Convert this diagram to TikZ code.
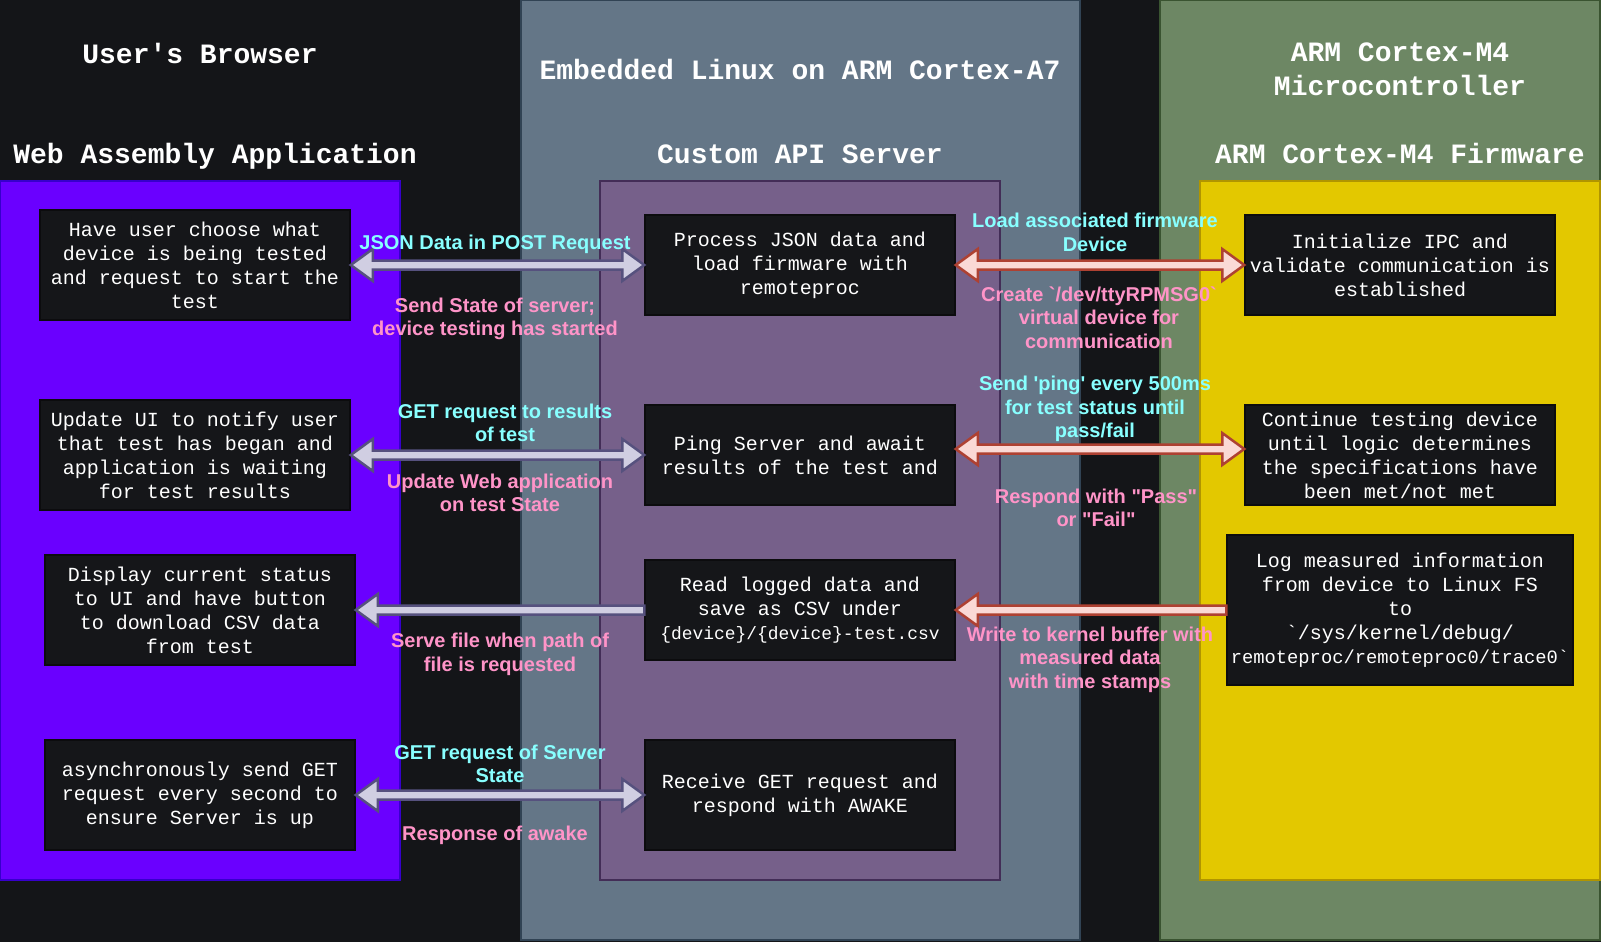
\documentclass[tikz,border=0pt]{standalone}
\usepackage{fontspec}
\setsansfont{Liberation Sans}
\setmonofont{Liberation Mono}
\usetikzlibrary{calc}

\definecolor{bgcol}{HTML}{141518}
\definecolor{linuxfill}{HTML}{647687}
\definecolor{linuxline}{HTML}{314354}
\definecolor{mcufill}{HTML}{6D8764}
\definecolor{mculine}{HTML}{3A5431}
\definecolor{wasmfill}{HTML}{6A00FF}
\definecolor{wasmline}{HTML}{3700CC}
\definecolor{apifill}{HTML}{76608A}
\definecolor{apiline}{HTML}{432D57}
\definecolor{fwfill}{HTML}{E3C800}
\definecolor{fwline}{HTML}{B09500}
\definecolor{boxfill}{HTML}{151619}
\definecolor{boxline}{HTML}{0C0C0E}
\definecolor{lavfill}{HTML}{D0CEE2}
\definecolor{lavline}{HTML}{56517E}
\definecolor{pinkfill}{HTML}{FAD9D5}
\definecolor{pinkline}{HTML}{AE4132}
\definecolor{cyantext}{HTML}{88FFFF}
\definecolor{pinktext}{HTML}{FF94C8}

\begin{document}
\begin{tikzpicture}[x=1pt, y=-1pt,
  stepbox/.style={draw=boxline, fill=boxfill, line width=1.5pt, text=white,
    minimum width=310pt, minimum height=100pt, inner sep=0pt, align=center,
    font=\ttfamily\fontsize{20}{24}\selectfont},
  title/.style={text=white, align=center, font=\ttfamily\bfseries\fontsize{28}{34}\selectfont},
  req/.style={text=cyantext, align=center, inner sep=0pt,
    font=\sffamily\bfseries\fontsize{20}{23.5}\selectfont},
  resp/.style={req, text=pinktext},
  lav/.style={fill=lavfill, draw=lavline, line width=2.5pt},
  rose/.style={fill=pinkfill, draw=pinkline, line width=2.5pt},
  twoway/.style={to path={let \p1=(\tikztostart), \p2=(\tikztotarget),
      \p3=($(\tikztostart)!22pt!(\tikztotarget)$), \p4=($(\tikztotarget)!22pt!(\tikztostart)$) in
      -- (\x3,\y1+16pt) -- (\x3,\y1+4.5pt) -- (\x4,\y1+4.5pt) -- (\x4,\y1+16pt) -- (\x2,\y1)
      -- (\x4,\y1-16pt) -- (\x4,\y1-4.5pt) -- (\x3,\y1-4.5pt) -- (\x3,\y1-16pt) -- cycle}},
  oneway/.style={to path={let \p1=(\tikztostart), \p2=(\tikztotarget),
      \p4=($(\tikztotarget)!22pt!(\tikztostart)$) in
      (\x1,\y1+4.5pt) -- (\x4,\y1+4.5pt) -- (\x4,\y1+16pt) -- (\x2,\y1)
      -- (\x4,\y1-16pt) -- (\x4,\y1-4.5pt) -- (\x1,\y1-4.5pt) -- cycle}}]

  \useasboundingbox (0,0) rectangle (1601,942);
  \fill[bgcol] (0,0) rectangle (1601,942);

  % the three systems
  \draw[fill=linuxfill, draw=linuxline, line width=1.5pt] (521,0) rectangle (1080,940);
  \draw[fill=mcufill, draw=mculine, line width=1.5pt] (1160,0) rectangle (1600,940);
  \draw[fill=wasmfill, draw=wasmline, line width=1.5pt] (0,181) rectangle (400,880);
  \draw[fill=apifill, draw=apiline, line width=1.5pt] (600,181) rectangle (1000,880);
  \draw[fill=fwfill, draw=fwline, line width=1.5pt] (1200,181) rectangle (1600,880);

  \node[title] (browser) at (200,53) {User\textquotesingle s Browser};
  \node[title] (linux) at (800,69) {Embedded Linux on ARM Cortex-A7};
  \node[title] (mcu) at (1400,69.5) {ARM Cortex-M4\\Microcontroller};
  \node[title] (wasm) at (215,156) {Web Assembly Application};
  \node[title] (api) at (800,154) {Custom API Server};
  \node[title] (fw) at (1400,153) {ARM Cortex-M4 Firmware};

  % browser side
  \node[stepbox, minimum height=110pt] (l1) at (195,265) {Have user choose what\\device is being tested\\and request to start the\\test};
  \node[stepbox, minimum height=110pt] (l2) at (195,455) {Update UI to notify user\\that test has began and\\application is waiting\\for test results};
  \node[stepbox, minimum height=110pt] (l3) at (200,610) {Display current status\\to UI and have button\\to download CSV data\\from test};
  \node[stepbox, minimum height=110pt] (l4) at (200,795) {asynchronously send GET\\request every second to\\ensure Server is up};

  % server
  \node[stepbox] (c1) at (800,265) {Process JSON data and\\load firmware with\\remoteproc};
  \node[stepbox] (c2) at (800,455) {Ping Server and await\\results of the test and};
  \node[stepbox] (c3) at (800,610) {Read logged data and\\save as CSV under\\{\fontsize{17.9}{24}\selectfont\{device\}/\{device\}-test.csv}};
  \node[stepbox, minimum height=110pt] (c4) at (800,795) {Receive GET request and\\respond with AWAKE};

  % firmware
  \node[stepbox] (r1) at (1400,265) {Initialize IPC and\\validate communication is\\established};
  \node[stepbox] (r2) at (1400,455) {Continue testing device\\until logic determines\\the specifications have\\been met/not met};
  \node[stepbox, minimum width=346pt, minimum height=150pt] (r3) at (1400,610) {Log measured information\\from device to Linux FS\\to\\\textasciigrave/sys/kernel/debug/\\{\fontsize{18.8}{24}\selectfont remoteproc/remoteproc0/trace0\textasciigrave}};

  \draw[lav, twoway] (l1.east) to (c1.west);
  \draw[lav, twoway] (l2.east) to (c2.west);
  \draw[lav, oneway] (c3.west) to (l3.east);
  \draw[lav, twoway] (l4.east) to (c4.west);
  \draw[rose, twoway] (c1.east) to (r1.west);
  \draw[rose, twoway] ($(c2.east)+(0,-6)$) to ($(r2.west)+(0,-6)$);
  \draw[rose, oneway] (r3.west) to (c3.east);

  \node[req] (jsonpost) at (495,244) {JSON Data in POST Request};
  \node[resp] (srvstate) at (495,319) {Send State of server;\\device testing has started};
  \node[req] (getres) at (505,423) {GET request to results\\of test};
  \node[resp] (updweb) at (500,493) {Update Web application\\on test State};
  \node[resp] (servefile) at (500,654.5) {Serve file when path of\\file is requested};
  \node[req] (getstate) at (500,764) {GET request of Server\\State};
  \node[resp] (awake) at (495,835) {Response of awake};
  \node[req] (loadfw) at (1095,232.5) {Load associated firmware\\Device};
  \node[resp] (ttydev) at (1099,317.5) {Create \textasciigrave/dev/ttyRPMSG0\textasciigrave\\virtual device for\\communication};
  \node[req] (ping) at (1095,409) {Send \textquotesingle ping\textquotesingle{} every 500ms\\for test status until\\pass/fail};
  \node[resp] (passfail) at (1096,508) {Respond with \textquotedbl Pass\textquotedbl\\or \textquotedbl Fail\textquotedbl};
  \node[resp] (kbuf) at (1090,659.5) {Write to kernel buffer with\\measured data\\with time stamps};
\end{tikzpicture}
\end{document}
